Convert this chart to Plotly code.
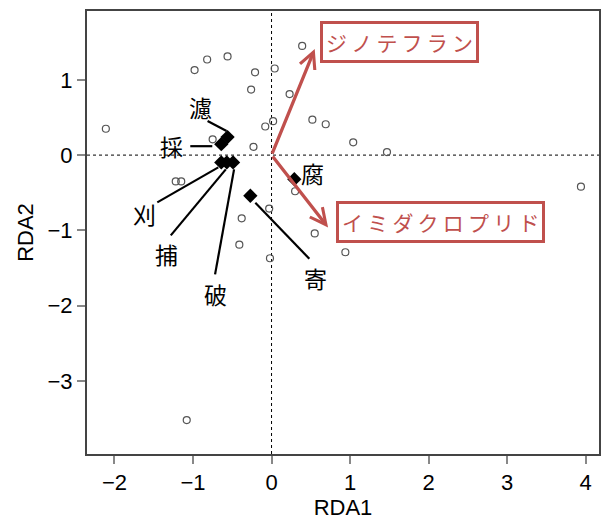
import plotly.graph_objects as go

# Site scores (open circles)
site_x = [-2.11, -0.98, -0.82, -0.56, -0.21, 0.04, 0.39, -0.26, 0.23, 0.52,
          0.69, 0.02, -0.08, -0.75, -0.23, -1.22, -1.15, 0.30, 1.04, 1.47,
          3.94, 0.55, 0.94, -0.03, -0.38, -0.41, -0.02, -1.08]
site_y = [0.35, 1.13, 1.27, 1.31, 1.10, 1.15, 1.45, 0.87, 0.81, 0.47,
          0.41, 0.45, 0.38, 0.21, 0.11, -0.35, -0.35, -0.48, 0.17, 0.04,
          -0.42, -1.04, -1.29, -0.71, -0.84, -1.19, -1.37, -3.52]

# Species scores (filled diamonds)
sp_names = ["濾", "採", "刈", "捕", "破", "寄", "腐"]
sp_x = [-0.56, -0.64, -0.64, -0.57, -0.49, -0.27, 0.29]
sp_y = [0.24, 0.145, -0.097, -0.097, -0.097, -0.54, -0.32]

# Explanatory variables (biplot arrows)
env_names = ["ジノテフラン", "イミダクロプリド"]
env_x = [0.55, 0.72]
env_y = [1.41, -0.96]

x_ticks = [-2, -1, 0, 1, 2, 3, 4]
y_ticks = [-3, -2, -1, 0, 1]

RED = "#C0504D"
CJK = "Noto Sans CJK JP"
LAT = "Liberation Sans, Arial, sans-serif"

fig = go.Figure()

fig.add_trace(go.Scatter(
    x=site_x, y=site_y, mode="markers",
    marker=dict(symbol="circle-open", size=7, color="#555555", line=dict(width=1.2)),
    hoverinfo="skip", showlegend=False))

fig.add_trace(go.Scatter(
    x=sp_x, y=sp_y, mode="markers",
    marker=dict(symbol="diamond", size=11, color="black"),
    hoverinfo="skip", showlegend=False))

# label placement for each species: (label dx, label dy, leader start, leader end) in px, dy downward
sp_layout = {
    "濾": ((-27, -30), (-20, -16), (-1, -6)),
    "採": ((-50, 2), (-31, 2), (-9, 2)),
    "刈": ((-77, 52), (-64, 40), (-3, 5)),
    "捕": ((-60, 92), (-56, 73), (-1, 7)),
    "破": ((-18, 132), (-18, 112), (1, 7)),
    "寄": ((65, 82), (59, 63), (5, 7)),
    "腐": ((18, -6), None, None),
}

shapes = []
annotations = []
for name, sx, sy in zip(sp_names, sp_x, sp_y):
    (ldx, ldy), p0, p1 = sp_layout[name]
    annotations.append(dict(
        x=sx, y=sy, xref="x", yref="y", text=name, showarrow=False,
        xshift=ldx, yshift=-ldy, xanchor="center", yanchor="middle",
        font=dict(family=CJK, size=23, color="black")))
    if p0 is not None:
        shapes.append(dict(
            type="line", xref="x", yref="y",
            xsizemode="pixel", ysizemode="pixel",
            xanchor=sx, yanchor=sy,
            x0=p0[0], y0=-p0[1], x1=p1[0], y1=-p1[1],
            line=dict(color="black", width=2.2)))

# origin cross-hairs
shapes.append(dict(type="line", xref="x", yref="paper", x0=0, x1=0, y0=0, y1=1,
                   line=dict(color="black", width=1, dash="dot"), layer="below"))
shapes.append(dict(type="line", xref="paper", yref="y", x0=0, x1=1, y0=0, y1=0,
                   line=dict(color="black", width=1, dash="dot"), layer="below"))

# arrows and boxed labels for explanatory variables
box_shift = {"ジノテフラン": (5, 7), "イミダクロプリド": (8, 5)}
for name, ex, ey in zip(env_names, env_x, env_y):
    annotations.append(dict(
        x=ex, y=ey, xref="x", yref="y", ax=0, ay=0, axref="x", ayref="y",
        showarrow=True, arrowhead=5, arrowsize=0.95, arrowwidth=3.3,
        arrowcolor=RED, text=""))
    dx, dy = box_shift[name]
    annotations.append(dict(
        x=ex, y=ey, xref="x", yref="y", text="\u2009".join(name), showarrow=False,
        xanchor="left", yanchor="middle", xshift=dx, yshift=dy,
        font=dict(family=CJK, size=21, color=RED),
        bgcolor="white", bordercolor=RED, borderwidth=3, borderpad=3))

fig.update_layout(
    width=603, height=520,
    margin=dict(l=87, r=2, t=11, b=63),
    paper_bgcolor="white", plot_bgcolor="white",
    shapes=shapes, annotations=annotations,
    font=dict(family=LAT, size=22, color="black"),
)

axis_common = dict(
    showgrid=False, zeroline=False, mirror=True, showline=True,
    linecolor="#444444", linewidth=2,
    ticks="outside", ticklen=8, tickwidth=1.5, tickcolor="#888888",
    tickfont=dict(family=LAT, size=22, color="black"),
)
fig.update_xaxes(range=[-2.35, 4.17], tickvals=x_ticks,
                 ticktext=[f"\u2212{abs(v)}" if v < 0 else str(v) for v in x_ticks],
                 title=dict(text="RDA1", font=dict(family=LAT, size=22), standoff=7),
                 **axis_common)
fig.update_yaxes(range=[-3.97, 1.914], tickvals=y_ticks,
                 ticktext=[f"\u2212{abs(v)}" if v < 0 else str(v) for v in y_ticks],
                 title=dict(text="RDA2", font=dict(family=LAT, size=22), standoff=8),
                 **axis_common)

fig.write_html("out.html")
